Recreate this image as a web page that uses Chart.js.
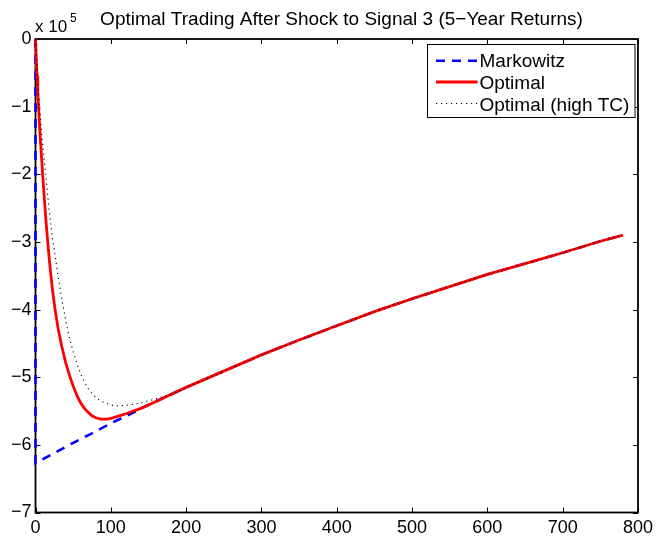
<!DOCTYPE html>
<html><head><meta charset="utf-8">
<script src="https://cdn.jsdelivr.net/npm/chart.js@4"></script>
<style>html,body{margin:0;padding:0;background:#fff;}#wrap{width:658px;height:537px;}</style>
</head><body><div id="wrap"><canvas id="c" width="658" height="537"></canvas></div>
<script>
// Values in units of 1e5
const titleText = 'Optimal Trading After Shock to Signal 3 (5\u2212Year Returns)';
const seriesNames = ['Markowitz', 'Optimal', 'Optimal (high TC)'];
const xTicks = [0, 100, 200, 300, 400, 500, 600, 700, 800];
const yTicks = [-7, -6, -5, -4, -3, -2, -1, 0];

const markowitzT = [0, 0, 25, 50, 75, 100, 125, 150, 200, 250, 300, 350, 400, 450, 500, 550, 600, 650, 700, 750, 780];
const markowitzV = [0, -6.27, -6.12, -5.97, -5.83, -5.68, -5.55, -5.41, -5.15, -4.91, -4.67, -4.45, -4.24, -4.03, -3.84, -3.66, -3.48, -3.32, -3.16, -2.99, -2.90];

const optimalT = [0, 1, 2, 3, 4, 5, 6, 8, 10, 12, 14, 17, 20, 23, 26, 30, 35, 40, 45, 50, 55, 60, 65, 70, 75, 80, 87, 95, 100, 110, 120, 130, 140, 150, 200, 250, 300, 350, 400, 450, 500, 550, 600, 650, 700, 750, 780];
const optimalV = [0, -0.28, -0.54, -0.78, -0.99, -1.2, -1.4, -1.75, -2.08, -2.4, -2.7, -3.1, -3.45, -3.75, -4.0, -4.28, -4.55, -4.78, -4.97, -5.13, -5.27, -5.38, -5.46, -5.52, -5.57, -5.6, -5.62, -5.62, -5.61, -5.575, -5.54, -5.5, -5.46, -5.41, -5.15, -4.91, -4.67, -4.45, -4.24, -4.03, -3.84, -3.66, -3.48, -3.32, -3.16, -2.99, -2.90];

const highTcT = [0, 2, 4, 6, 8, 10, 13, 16, 19, 22, 26, 30, 35, 40, 45, 50, 55, 60, 65, 70, 75, 80, 85, 90, 95, 100, 105, 110, 115, 120, 130, 140, 150, 160, 170, 180, 190, 200, 250, 300, 350, 400, 450, 500, 550, 600, 650, 700, 750, 780];
const highTcV = [0, -0.42, -0.78, -1.1, -1.38, -1.62, -1.95, -2.3, -2.62, -2.9, -3.2, -3.5, -3.85, -4.15, -4.42, -4.62, -4.8, -4.95, -5.07, -5.17, -5.24, -5.3, -5.34, -5.37, -5.39, -5.41, -5.42, -5.425, -5.42, -5.415, -5.4, -5.38, -5.35, -5.32, -5.285, -5.25, -5.21, -5.155, -4.91, -4.67, -4.45, -4.24, -4.03, -3.84, -3.66, -3.48, -3.32, -3.16, -2.99, -2.90];

const FONT = "'Liberation Sans', Arial, Helvetica, sans-serif";
const pts = (t, v) => t.map((x, i) => ({x: x, y: v[i]}));
const styles = [
  {color: '#0000ff', width: 2.6, dash: [9, 7]},
  {color: '#ff0000', width: 2.8, dash: []},
  {color: '#000000', width: 1.1, dash: [1.2, 3.8]}
];

const framePlugin = {
  id: 'frame',
  beforeDatasetsDraw(chart) {
    const {ctx, chartArea: a, scales} = chart;
    ctx.save();
    ctx.strokeStyle = '#000';
    ctx.lineWidth = 1;
    ctx.beginPath();
    xTicks.forEach(v => {
      const px = Math.round(scales.x.getPixelForValue(v)) + 0.5;
      ctx.moveTo(px, a.bottom); ctx.lineTo(px, a.bottom - 5);
      ctx.moveTo(px, a.top); ctx.lineTo(px, a.top + 5);
    });
    yTicks.forEach(v => {
      const py = Math.round(scales.y.getPixelForValue(v)) + 0.5;
      ctx.moveTo(a.left, py); ctx.lineTo(a.left + 5, py);
      ctx.moveTo(a.right, py); ctx.lineTo(a.right - 5, py);
    });
    ctx.stroke();
    ctx.lineWidth = 1.8;
    ctx.strokeRect(a.left, a.top, a.right - a.left, a.bottom - a.top);
    ctx.restore();
  },
  afterDraw(chart) {
    const {ctx} = chart;
    ctx.save();
    ctx.fillStyle = '#000';
    // title
    ctx.font = '19px ' + FONT;
    ctx.textAlign = 'center';
    ctx.textBaseline = 'alphabetic';
    ctx.fillText(titleText, 341.5, 25);
    // exponent label
    ctx.textAlign = 'left';
    ctx.font = '17px ' + FONT;
    ctx.fillText('x 10', 35, 32);
    ctx.font = '12px ' + FONT;
    ctx.fillText('5', 70, 22);
    // legend
    const bx = 427.5, by = 44.5, bw = 207.5, bh = 73;
    ctx.fillStyle = '#fff';
    ctx.fillRect(bx, by, bw, bh);
    ctx.strokeStyle = '#000';
    ctx.lineWidth = 1;
    ctx.strokeRect(bx, by, bw, bh);
    const lineY = [60.7, 82, 103.5];
    const textY = [66.5, 88.5, 111];
    ctx.font = '19px ' + FONT;
    seriesNames.forEach((name, i) => {
      const s = styles[i];
      ctx.save();
      ctx.strokeStyle = s.color;
      ctx.lineWidth = s.width;
      ctx.setLineDash(s.dash);
      ctx.beginPath();
      ctx.moveTo(436, lineY[i]);
      ctx.lineTo(477.5, lineY[i]);
      ctx.stroke();
      ctx.restore();
      ctx.fillStyle = '#000';
      ctx.fillText(name, 479.5, textY[i]);
    });
    ctx.restore();
  }
};

const datasets = [
  {label: seriesNames[0], data: pts(markowitzT, markowitzV), order: 2},
  {label: seriesNames[1], data: pts(optimalT, optimalV), order: 1},
  {label: seriesNames[2], data: pts(highTcT, highTcV), order: 0}
].map((d, i) => Object.assign(d, {
  showLine: true, pointRadius: 0, borderColor: styles[i].color, borderWidth: styles[i].width,
  borderDash: styles[i].dash, fill: false, tension: 0, clip: 4
}));

new Chart(document.getElementById('c'), {
  type: 'scatter',
  data: {datasets},
  options: {
    responsive: false, animation: false,
    layout: {padding: {top: 39, right: 17, left: 0, bottom: 0}},
    plugins: {legend: {display: false}, tooltip: {enabled: false}, title: {display: false}},
    scales: {
      x: {
        type: 'linear', min: 0, max: 800,
        afterBuildTicks: s => { s.ticks = xTicks.map(v => ({value: v})); },
        afterFit: s => { s.height = 24.5; },
        grid: {display: false, drawTicks: false}, border: {display: false},
        ticks: {color: '#000', font: {family: FONT, size: 18}, padding: 5, maxRotation: 0, autoSkip: false}
      },
      y: {
        type: 'linear', min: -7, max: 0,
        afterBuildTicks: s => { s.ticks = yTicks.map(v => ({value: v})); },
        afterFit: s => { s.width = 35.5; },
        grid: {display: false, drawTicks: false}, border: {display: false},
        ticks: {color: '#000', font: {family: FONT, size: 18}, padding: 4, autoSkip: false,
          callback: v => v < 0 ? '\u2212' + Math.abs(v) : String(v)}
      }
    }
  },
  plugins: [framePlugin]
});
</script></body></html>
